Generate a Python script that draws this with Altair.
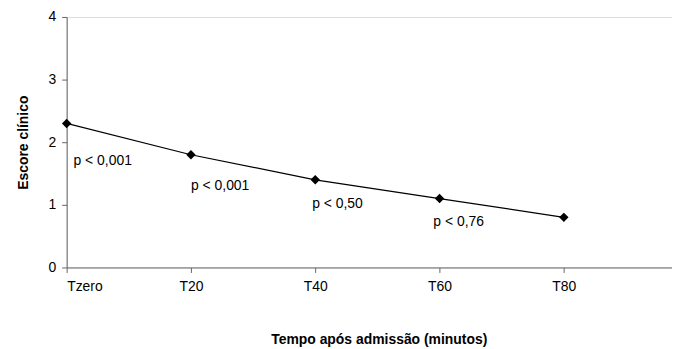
import altair as alt
import pandas as pd

minutes = [0, 20, 40, 60, 80]
labels = ["Tzero", "T20", "T40", "T60", "T80"]
scores = [2.3, 1.8, 1.4, 1.1, 0.8]

p_texts = ["p < 0,001", "p < 0,001", "p < 0,50", "p < 0,76"]
p_x = [1.1, 20, 39.5, 59]
p_y = [1.70, 1.30, 1.02, 0.73]

df = pd.DataFrame({"min": minutes, "label": labels, "score": scores})
dp = pd.DataFrame({"x": p_x, "y": p_y, "t": p_texts})

label_expr = "datum.value == 0 ? 'Tzero' : 'T' + datum.value"

xscale = alt.Scale(domain=[0, 97.4], nice=False, zero=False)
yscale = alt.Scale(domain=[0, 4], nice=False)

xaxis = alt.Axis(values=minutes, labelExpr=label_expr, grid=False,
                 title="Tempo após admissão (minutos)", tickSize=5,
                 labelPadding=7, titlePadding=40, domainColor="#666",
                 tickColor="#666", labelColor="#000", titleColor="#000",
                 labelFont="Liberation Sans", titleFont="Liberation Sans",
                 labelFontSize=14, titleFontSize=14, titleFontWeight="bold",
                 labelFontWeight="normal", titleX=314)
yaxis = alt.Axis(values=[0, 1, 2, 3, 4], format="d", grid=False, title="Escore clínico",
                 tickSize=5, labelPadding=6, titlePadding=18,
                 domainColor="#666", tickColor="#666", labelColor="#000",
                 titleColor="#000", labelFont="Liberation Sans",
                 titleFont="Liberation Sans", labelFontSize=14,
                 titleFontSize=14, titleFontWeight="bold")

base = alt.Chart(df)
line = base.mark_line(color="black", strokeWidth=1.2).encode(
    x=alt.X("min:Q", scale=xscale, axis=xaxis),
    y=alt.Y("score:Q", scale=yscale, axis=yaxis),
)
pts = base.mark_point(shape="diamond", filled=True, color="black", size=90, opacity=1).encode(
    x=alt.X("min:Q", scale=xscale),
    y=alt.Y("score:Q", scale=yscale),
)
txt = alt.Chart(dp).mark_text(align="left", baseline="middle", font="Liberation Sans",
                              fontSize=14, color="black").encode(
    x=alt.X("x:Q", scale=xscale),
    y=alt.Y("y:Q", scale=yscale),
    text="t:N",
)

chart = (line + pts + txt).properties(
    width=609, height=252,
    padding={"top": 1, "left": 8, "right": 0, "bottom": 0},
).configure_view(stroke=None).configure(background="white")

chart.save("out.html", embed_options={"renderer": "svg", "actions": False})
